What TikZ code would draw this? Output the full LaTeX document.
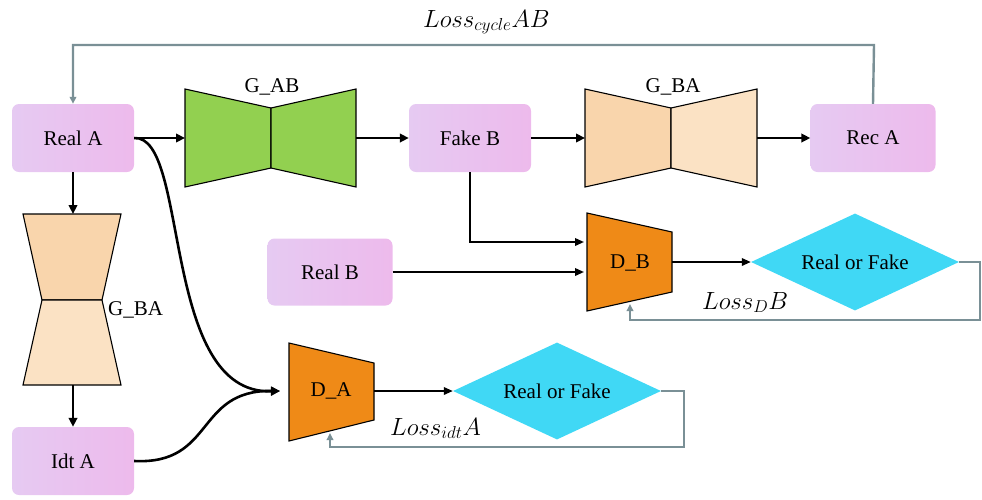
\documentclass[tikz,border=0pt]{standalone}
\usepackage{fontspec}
\setmainfont{Liberation Serif}
\usetikzlibrary{shapes.geometric,arrows.meta}
\definecolor{pinkA}{RGB}{230,202,242}
\definecolor{pinkB}{RGB}{237,186,236}
\definecolor{ggreen}{RGB}{146,208,80}
\definecolor{peach}{RGB}{249,213,172}
\definecolor{peachL}{RGB}{251,226,196}
\definecolor{dorange}{RGB}{239,138,23}
\definecolor{rfcyan}{RGB}{64,216,245}
\definecolor{lossgray}{RGB}{122,144,150}
\begin{document}
\begin{tikzpicture}[x=1pt,y=-1pt,
  lbl/.style={font=\fontsize{21}{24}\selectfont, inner sep=0pt},
  mathlbl/.style={font=\fontsize{23.5}{28}\selectfont, inner sep=0pt},
  imgbox/.style={rectangle, rounded corners=7pt, minimum width=122pt, minimum height=68pt,
    inner sep=0pt, left color=pinkA, right color=pinkB, font=\fontsize{21}{24}\selectfont},
  dia/.style={diamond, aspect=2.15, inner sep=0pt, minimum width=208pt, minimum height=97pt,
    fill=rfcyan, font=\fontsize{21}{24}\selectfont},
  gshape/.style={draw=black, line width=1.1pt, line join=miter},
  blk/.style={line width=2.6pt, -{Triangle[length=9pt,width=8.5pt]}},
  thinarr/.style={line width=1.9pt, -{Triangle[length=9pt,width=7.5pt]}},
  loss/.style={draw=lossgray, line width=2.4pt, -{Triangle[length=7pt,width=6.5pt]}}
]
\useasboundingbox (0,0) rectangle (982,499);

% image boxes
\node[imgbox] (realA) at (73,138) {Real A};
\node[imgbox] (fakeB) at (470,138) {Fake B};
\node[imgbox, minimum width=125pt] (recA) at (873,138) {Rec A};
\node[imgbox, minimum width=125pt, minimum height=67pt] (realB) at (330,272) {Real B};
\node[imgbox] (idtA) at (73,461) {Idt A};

% G_AB (green)
\filldraw[gshape, fill=ggreen] (185,89) -- (271,108) -- (271,168) -- (185,187) -- cycle;
\filldraw[gshape, fill=ggreen] (271,108) -- (356,89) -- (356,187) -- (271,168) -- cycle;
\coordinate (gabIn) at (185,138);
\coordinate (gabOut) at (356,138);
\node[lbl, anchor=base] (gabLbl) at (272,92) {G\_AB};

% G_BA top (peach)
\filldraw[gshape, fill=peach] (585,89) -- (671,108) -- (671,168) -- (585,187) -- cycle;
\filldraw[gshape, fill=peachL] (671,108) -- (757,89) -- (757,187) -- (671,168) -- cycle;
\coordinate (gbaIn) at (585,138);
\coordinate (gbaOut) at (757,138);
\node[lbl, anchor=base] (gbaLbl) at (673,92) {G\_BA};

% G_BA vertical (peach)
\filldraw[gshape, fill=peach] (23,214) -- (121,214) -- (102,300) -- (42,300) -- cycle;
\filldraw[gshape, fill=peachL] (42,300) -- (102,300) -- (121,385) -- (23,385) -- cycle;
\coordinate (gbavIn) at (73,214);
\coordinate (gbavOut) at (73,385);
\node[lbl, anchor=base west] (gbavLbl) at (108,315) {G\_BA};

% discriminators
\filldraw[gshape, fill=dorange] (289,343) -- (374,363) -- (374,420) -- (289,441) -- cycle;
\node[lbl] (daLbl) at (331,391) {D\_A};
\coordinate (daIn) at (280,391);
\coordinate (daOut) at (374,391);
\coordinate (daBot) at (330,433);

\filldraw[gshape, fill=dorange] (587,213) -- (672,232) -- (672,292) -- (587,311) -- cycle;
\node[lbl] (dbLbl) at (630,263) {D\_B};
\coordinate (dbIn1) at (584,242);
\coordinate (dbIn2) at (584,272);
\coordinate (dbOut) at (672,262);
\coordinate (dbBot) at (630,304);

% diamonds
\node[dia] (rfA) at (557,391) {Real or Fake};
\node[dia] (rfB) at (855,262) {Real or Fake};

% main arrows
\draw[blk] (realA.east) -- (gabIn);
\draw[blk] (gabOut) -- (fakeB.west);
\draw[blk] (fakeB.east) -- (gbaIn);
\draw[blk] (gbaOut) -- (recA.west);
\draw[blk] (realA.south) -- (gbavIn);
\draw[blk] (gbavOut) -- (idtA.north);
\draw[blk] (realA.east) .. controls (190,135) and (160,395) .. (daIn);
\draw[blk] (idtA.east) .. controls (215,465) and (195,390) .. (daIn);

% discriminator arrows
\coordinate (fbCorner) at (470,242);
\draw[thinarr] (fakeB.south) -- (fbCorner) -- (dbIn1);
\draw[thinarr] (realB.east) -- (dbIn2);
\draw[thinarr] (dbOut) -- (rfB.west);
\draw[thinarr] (daOut) -- (rfA.west);

% loss loops
\coordinate (cycTR) at (874,45);
\coordinate (cycTL) at (73,45);
\draw[loss] (recA.north) -- (cycTR) -- (cycTL) -- (realA.north);
\coordinate (ldb1) at (980,262);
\coordinate (ldb2) at (980,320);
\coordinate (ldb3) at (630,320);
\draw[loss] (rfB.east) -- (ldb1) -- (ldb2) -- (ldb3) -- (dbBot);
\coordinate (lda1) at (684,391);
\coordinate (lda2) at (684,447);
\coordinate (lda3) at (330,447);
\draw[loss] (rfA.east) -- (lda1) -- (lda2) -- (lda3) -- (daBot);

% loss labels
\node[mathlbl, anchor=base west] (lcyc) at (423,27) {$Loss_{cycle}AB$};
\node[mathlbl, anchor=base west] (ldB) at (702,309) {$Loss_{D}B$};
\node[mathlbl, anchor=base west] (lidt) at (390,435) {$Loss_{idt}A$};
\end{tikzpicture}
\end{document}
